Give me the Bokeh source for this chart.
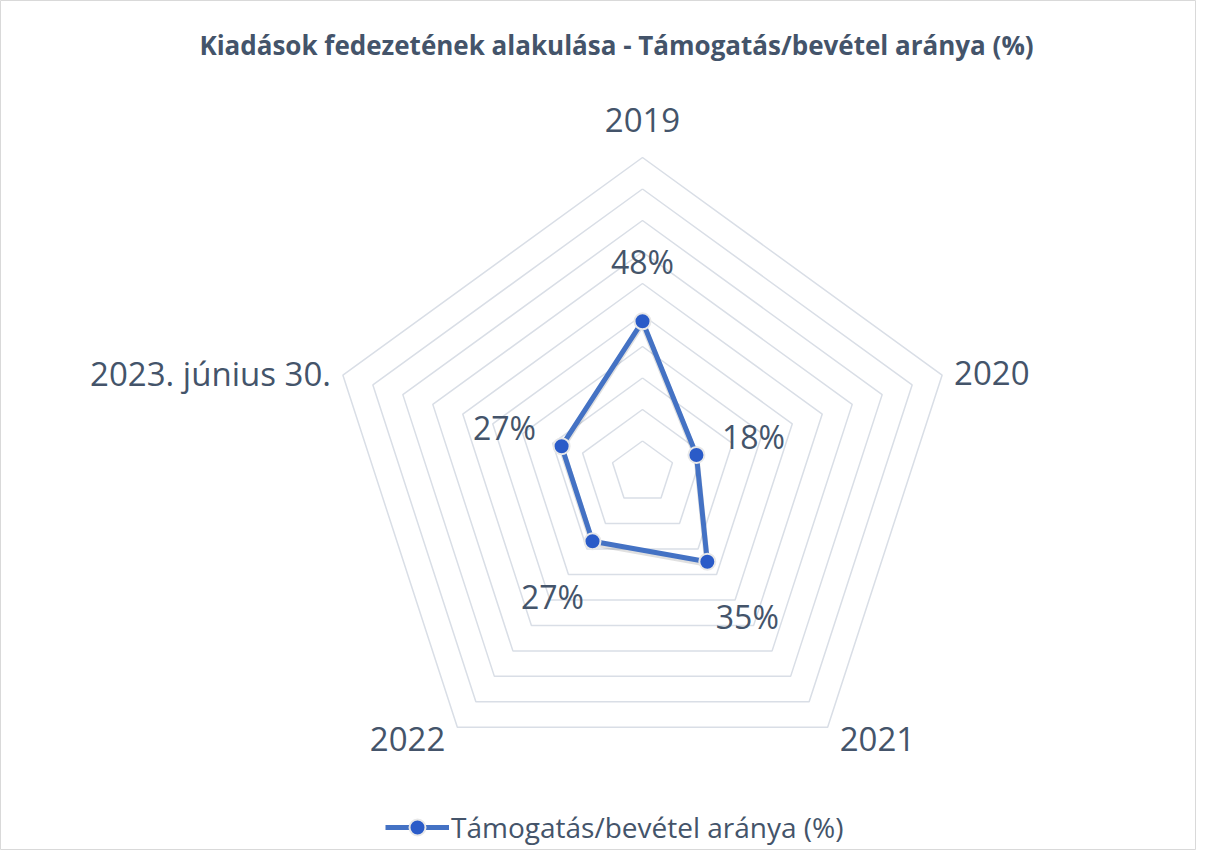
import math
from bokeh.plotting import figure
from bokeh.models import Range1d, Label, Legend, LegendItem
from bokeh.embed import file_html
from bokeh.resources import INLINE

# ---- data ----
categories = ["2019", "2020", "2021", "2022", "2023. június 30."]
values = [48, 18, 35, 27, 27]
value_labels = ["48%", "18%", "35%", "27%", "27%"]
ring_levels = [10, 20, 30, 40, 50, 60, 70, 80, 90, 100]
series_name = "Támogatás/bevétel aránya (%)"
title_text = "Kiadások fedezetének alakulása - Támogatás/bevétel aránya (%)"

# ---- layout ----
W, H = 1196, 850
PX = 3.15            # pixels per percent unit
CX, CY = 642, 472    # centre in canvas pixels (from top-left)
FONT = "Open Sans"
TXT = "#44546A"
LINE = "#4472C4"
MARK = "#2A5BC8"
GRID = "#D9DEE6"

x0 = -CX / PX
x1 = (W - CX) / PX
y1 = CY / PX
y0 = -(H - CY) / PX

p = figure(width=W, height=H, output_backend="svg", toolbar_location=None,
           x_range=Range1d(x0, x1), y_range=Range1d(y0, y1),
           x_axis_type=None, y_axis_type=None, min_border=0)
p.grid.visible = False
p.outline_line_color = "#D9D9D9"
p.outline_line_width = 1
p.background_fill_color = "white"
p.border_fill_color = "white"

n = len(categories)
angles = [2 * math.pi * i / n for i in range(n)]  # clockwise from top
ux = [math.sin(a) for a in angles]
uy = [math.cos(a) for a in angles]

# grid rings
xs, ys = [], []
for r in ring_levels:
    xs.append([r * ux[i] for i in range(n)] + [r * ux[0]])
    ys.append([r * uy[i] for i in range(n)] + [r * uy[0]])
p.multi_line(xs, ys, line_color=GRID, line_width=1.5)

# series
px_ = [values[i] * ux[i] for i in range(n)]
py_ = [values[i] * uy[i] for i in range(n)]
sh = 2.0 / PX
p.line(px_ + [px_[0]], [y - sh for y in py_] + [py_[0] - sh], line_color="#000000",
       line_alpha=0.12, line_width=6, line_join="round")
ln = p.line(px_ + [px_[0]], py_ + [py_[0]], line_color=LINE, line_width=5, line_join="round")
sc = p.scatter(px_, py_, size=16, fill_color=MARK, line_color="#E8E8E8", line_width=2)

# data labels (placed outward from point)
for i in range(n):
    off = (60 + 10 * max(0.0, -uy[i])) / PX
    lx = px_[i] + off * ux[i]
    ly = py_[i] + off * uy[i]
    p.add_layout(Label(x=lx, y=ly, text=value_labels[i], text_align="center",
                       text_baseline="middle", text_font=FONT, text_font_size="32px",
                       text_color=TXT))

# category labels
R = ring_levels[-1]
for i in range(n):
    vx, vy = R * ux[i], R * uy[i]
    if abs(ux[i]) < 0.1:
        align = "center"
    else:
        align = "left" if ux[i] > 0 else "right"
    if uy[i] > 0.9:
        base = "bottom"
    elif uy[i] < -0.5:
        base = "top"
    else:
        base = "middle"
    xo = 12 * (1 if ux[i] > 0.1 else (-1 if ux[i] < -0.1 else 0))
    yo = 26 if base == "bottom" else (0 if base == "top" else 2)
    p.add_layout(Label(x=vx, y=vy, x_offset=xo, y_offset=yo, text=categories[i],
                       text_align=align, text_baseline=base, text_font=FONT,
                       text_font_size="33px", text_color=TXT))

# title
p.add_layout(Label(x=616, y=H - 44, x_units="screen", y_units="screen", text=title_text,
                   text_align="center", text_baseline="middle", text_font=FONT,
                   text_font_size="26px", text_font_style="bold", text_color=TXT))

legend = Legend(items=[LegendItem(label=series_name, renderers=[ln, sc])],
                location=(385, 3), orientation="horizontal",
                label_text_font=FONT, label_text_font_size="28px", label_text_color=TXT,
                glyph_width=64, glyph_height=40, label_standoff=2,
                border_line_color=None, background_fill_alpha=0, padding=0, margin=0)
p.add_layout(legend)

open("out.html", "w").write(file_html(p, INLINE))
